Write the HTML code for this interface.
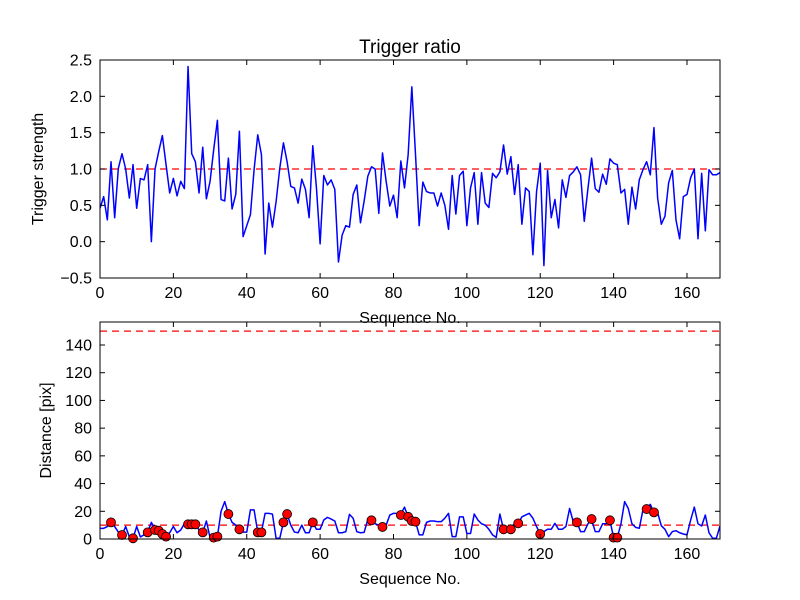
<!DOCTYPE html>
<html><head><meta charset="utf-8"><style>
html,body{margin:0;padding:0;background:#fff;}
svg{display:block;font-family:"Liberation Sans","DejaVu Sans",sans-serif;}
</style></head><body>
<svg id="fig" width="800" height="600" viewBox="0 0 800 600">
<rect x="0" y="0" width="800" height="600" fill="#fff"/>
</svg>
<script>
const strength = [0.46,0.62,0.3,1.1,0.33,1.01,1.21,1.0,0.6,1.06,0.46,0.87,0.85,1.06,0.0,1.0,1.24,1.46,1.06,0.67,0.87,0.63,0.83,0.73,2.41,1.21,1.1,0.67,1.3,0.59,0.83,1.27,1.67,0.58,0.56,1.15,0.45,0.65,1.52,0.07,0.22,0.37,0.99,1.47,1.2,-0.17,0.53,0.2,0.55,1.01,1.36,1.1,0.76,0.74,0.53,0.86,0.72,0.33,1.32,0.74,-0.03,0.91,0.78,0.85,0.72,-0.28,0.09,0.22,0.2,0.65,0.78,0.26,0.56,0.9,1.03,1.0,0.39,1.22,0.83,0.49,0.64,0.33,1.11,0.74,1.2,2.13,1.2,0.22,0.82,0.69,0.67,0.67,0.49,0.67,0.5,0.17,0.91,0.38,0.91,0.97,0.22,0.74,0.95,0.24,0.95,0.53,0.47,0.94,0.88,0.96,1.33,0.93,1.17,0.65,1.06,0.24,0.74,0.69,-0.18,0.69,1.08,-0.33,0.98,0.33,0.58,0.19,0.85,0.61,0.91,0.96,1.03,0.92,0.28,0.73,1.15,0.73,0.68,0.93,0.79,1.14,1.08,1.06,0.67,0.72,0.24,0.75,0.45,0.85,0.99,1.1,0.92,1.57,0.6,0.24,0.35,0.81,0.98,0.3,0.04,0.62,0.65,0.88,1.0,0.04,0.94,0.15,0.99,0.92,0.92,0.95];
const distance = [7.7,7.7,9,12,9,5,3,9,1.5,0.5,9,1.5,3,5,12,7,6,3.6,1.7,4.5,9,4.5,6.5,11,10.6,10.6,10.6,6.5,4.8,13,1,1,1.7,20,27,18,12,10,7,5,5,21,21,5,5,18.5,18.5,18,0.5,0.5,12,18,10,5,4.5,10,4.5,4.5,12,7,7,13.7,15.6,14.4,13,4.5,4.5,5.3,17.8,15,5.3,4.5,4.8,14,13.5,11,10,8.7,10,17.3,18.5,18.5,18,23,16,13,12.5,3,3,12,13,13,12.5,12.5,15,18.5,1.7,1.7,16,16,4,4,18,13.7,11,10,7,3,1.2,18,7,7,7,11.3,11.3,16,17.3,18.5,15,9,3.6,5.3,7,7,11.3,7,7,9,22,12.5,12,5.3,5.3,11,14,5.3,5.3,11,11,13.5,1,1,11,27,22,11,8.4,7.7,21,21.6,25,19,19,9.6,7,1.7,5.3,6,4.5,3.6,3,13.7,23,11,9.4,17.3,4.5,0.5,0.5,9.4];
const dotX = [3,6,9,13,15,16,17,18,24,25,26,28,31,32,35,38,43,44,50,51,58,74,77,82,84,85,86,110,112,114,120,130,134,139,140,141,149,151];
const dotY = [12,2.9,0.5,4.8,6.5,6,3.6,1.7,10.6,10.6,10.6,4.8,1,1.7,18,7,4.8,4.8,12,18,12,13.5,8.7,17.3,16,13,12.5,7,7,11.3,3.6,12,14.4,13.5,1,1,21.6,19.2];
const xTicks = [0,20,40,60,80,100,120,140,160];
const topYTicks = [-0.5,0.0,0.5,1.0,1.5,2.0,2.5];
const botYTicks = [0,20,40,60,80,100,120,140];
const topThreshold = [1.0];
const botThresholds = [150,10];

const NS = "http://www.w3.org/2000/svg";
const svg = document.getElementById('fig');
function mk(tag, attrs, parent){const e=document.createElementNS(NS,tag);for(const k in attrs)e.setAttribute(k,attrs[k]);(parent||svg).appendChild(e);return e;}

function drawAxes(cfg){
  const g = mk('g',{});
  
  
  const sx = v => cfg.x0 + (v - 0) / 169 * (cfg.x1 - cfg.x0);
  const sy = v => cfg.y1 - (v - cfg.ymin) / (cfg.ymax - cfg.ymin) * (cfg.y1 - cfg.y0);
  const cid = cfg.name + '-clip';
  const cp = mk('clipPath',{id:cid},g);
  mk('rect',{x:cfg.x0,y:cfg.y0,width:cfg.x1-cfg.x0,height:cfg.y1-cfg.y0},cp);
  const plot = mk('g',{'clip-path':'url(#'+cid+')'},g);
  cfg.thr.forEach(t=>{
    const l = mk('line',{x1:cfg.x0,x2:cfg.x1,y1:sy(t),y2:sy(t),stroke:'#ff0000','stroke-width':1.3,'stroke-dasharray':'7,5'},plot);
    
    
  });
  const pts = cfg.data.map((v,i)=>sx(i).toFixed(2)+','+sy(v).toFixed(2)).join(' ');
  const pl = mk('polyline',{points:pts,fill:'none',stroke:'#0000ff','stroke-width':1.5,'stroke-linejoin':'round'},plot);
  
  
  if(cfg.dx){
    cfg.dx.forEach((xv,k)=>{
      const c = mk('circle',{cx:sx(xv),cy:sy(cfg.dy[k]),r:4.5,fill:'#ff0000',stroke:'#000','stroke-width':0.8},g);
      
      
    });
  }
  const fr = mk('rect',{x:cfg.x0,y:cfg.y0,width:cfg.x1-cfg.x0,height:cfg.y1-cfg.y0,fill:'none',stroke:'#000','stroke-width':1},g);
  
  
  xTicks.forEach(t=>{
    const x = sx(t);
    mk('line',{x1:x,x2:x,y1:cfg.y1,y2:cfg.y1-5,stroke:'#000'},g);
    mk('line',{x1:x,x2:x,y1:cfg.y0,y2:cfg.y0+5,stroke:'#000'},g);
    const tx = mk('text',{x:x,y:cfg.y1+20,'font-size':16,'text-anchor':'middle'},g);
    tx.textContent = t;
    
    
  });
  cfg.yt.forEach(t=>{
    const y = sy(t);
    mk('line',{x1:cfg.x0,x2:cfg.x0+5,y1:y,y2:y,stroke:'#000'},g);
    mk('line',{x1:cfg.x1,x2:cfg.x1-5,y1:y,y2:y,stroke:'#000'},g);
    const ty = mk('text',{x:cfg.x0-8,y:y+5.5,'font-size':16,'text-anchor':'end'},g);
    ty.textContent = cfg.fmt(t).replace('-', '\u2212');
    
    
  });
  const xl = mk('text',{x:(cfg.x0+cfg.x1)/2,y:cfg.y1+45,'font-size':16,'text-anchor':'middle'},g);
  xl.textContent = 'Sequence No.';
  
  
  const yl = mk('text',{x:0,y:0,'font-size':16,'text-anchor':'middle',transform:'translate('+cfg.ylx+','+((cfg.y0+cfg.y1)/2)+') rotate(-90)'},g);
  yl.textContent = cfg.ylabel;
  
  
}

drawAxes({name:'trigger-axes',seriesName:'trigger-strength-line',x0:100,x1:720,y0:60,y1:278,ymin:-0.5,ymax:2.5,data:strength,thr:topThreshold,yt:topYTicks,fmt:t=>t.toFixed(1),ylabel:'Trigger strength',ylx:43});
drawAxes({name:'distance-axes',seriesName:'distance-line',x0:100,x1:720,y0:322,y1:539,ymin:0,ymax:156.6,data:distance,thr:botThresholds,yt:botYTicks,fmt:t=>String(t),ylabel:'Distance [pix]',ylx:51,dx:dotX,dy:dotY});

const title = mk('text',{x:410,y:53,'font-size':19,'text-anchor':'middle'});
title.textContent = 'Trigger ratio';


</script>
</body></html>
